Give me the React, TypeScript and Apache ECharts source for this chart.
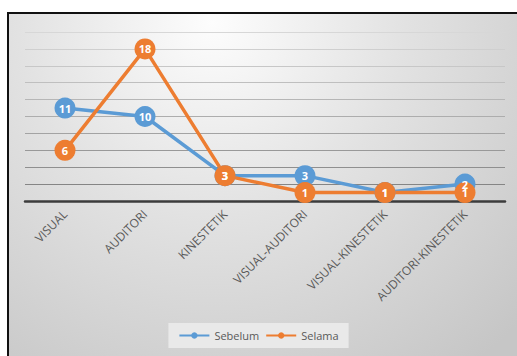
import React, { useEffect, useRef } from "react";
import * as echarts from "echarts";

const categories = [
  "VISUAL",
  "AUDITORI",
  "KINESTETIK",
  "VISUAL-AUDITORI",
  "VISUAL-KINESTETIK",
  "AUDITORI-KINESTETIK",
];
const sebelum = [11, 10, 3, 3, 1, 2];
const selama = [6, 18, 3, 1, 1, 1];
const seriesNames = ["Sebelum", "Selama"];
const yMin = 0;
const yMax = 20;
const yStep = 2;

const gridColors = [
  "#6e6e6e",
  "#858585",
  "#8f8f8f",
  "#999999",
  "#a3a3a3",
  "#adadad",
  "#b6b6b6",
  "#bfbfbf",
  "#c7c7c7",
  "#cfcfcf",
  "#d7d7d7",
];

export default function App() {
  const ref = useRef<HTMLDivElement>(null);
  useEffect(() => {
    if (!ref.current) return;
    const chart = echarts.init(ref.current, undefined, { renderer: "svg" });
    const font = "'Open Sans', 'Liberation Sans', sans-serif";
    const mkSeries = (name: string, data: number[], color: string) => ({
      name,
      type: "line",
      data,
      symbol: "circle",
      symbolSize: 21,
      itemStyle: { color },
      lineStyle: { color, width: 3.5 },
      label: {
        show: true,
        position: "inside",
        color: "#ffffff",
        fontWeight: "bold",
        fontSize: 11,
        fontFamily: font,
      },
    });
    chart.setOption({
      animation: false,
      backgroundColor: "transparent",
      grid: { left: 25, right: 12, top: 32, bottom: 155 },
      legend: {
        data: seriesNames,
        left: "center",
        top: 323,
        backgroundColor: "#e9e9e9",
        padding: [7, 10],
        itemWidth: 30,
        itemHeight: 8,
        itemGap: 6,
        textStyle: { color: "#595959", fontSize: 11, fontFamily: font },
      },
      xAxis: {
        type: "category",
        data: categories,
        boundaryGap: true,
        axisLine: { show: true, lineStyle: { color: "#3c3c3c", width: 2.5 } },
        axisTick: { show: false },
        axisLabel: {
          rotate: 45,
          color: "#595959",
          fontSize: 12,
          fontFamily: font,
          margin: 11,
          interval: 0,
        },
      },
      yAxis: {
        type: "value",
        min: yMin,
        max: yMax,
        interval: yStep,
        axisLabel: { show: false },
        axisLine: { show: false },
        axisTick: { show: false },
        splitLine: { show: true, lineStyle: { color: gridColors, width: 1.2 } },
      },
      series: [
        mkSeries(seriesNames[0], sebelum, "#5b9bd5"),
        mkSeries(seriesNames[1], selama, "#ed7d31"),
      ],
    });
    return () => chart.dispose();
  }, []);
  return (
    <div
      style={{
        position: "absolute",
        left: 0,
        top: 0,
        width: 517,
        height: 356,
        overflow: "hidden",
        background: "#ffffff",
      }}
    >
      <div
        style={{
          position: "absolute",
          left: 7,
          top: 12,
          width: 600,
          height: 500,
          borderLeft: "2.5px solid #111111",
          borderTop: "2.5px solid #111111",
          background:
            "radial-gradient(circle 430px at 203px 8px, #fdfdfd 0%, #e2e2e2 45%, #c6c6c6 100%)",
        }}
      />
      <div
        ref={ref}
        style={{ position: "absolute", left: 0, top: 0, width: 517, height: 356 }}
      />
    </div>
  );
}
